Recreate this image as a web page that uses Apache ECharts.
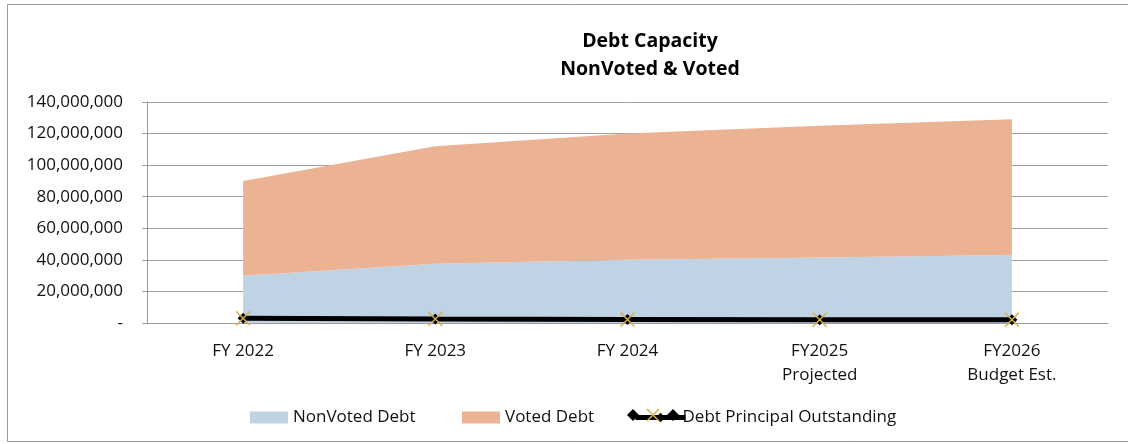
<!DOCTYPE html>
<html><head><meta charset="utf-8">
<script src="https://cdn.jsdelivr.net/npm/echarts@6/dist/echarts.min.js"></script>
<style>html,body{margin:0;padding:0;background:#fff}#c{width:1128px;height:444px}</style>
</head><body><div id="c"></div>
<script>
const categories = ['FY 2022', 'FY 2023', 'FY 2024', 'FY2025\nProjected', 'FY2026\nBudget Est.'];
const nonVotedDebt = [30000000, 37500000, 40000000, 41500000, 43000000];
const votedDebt = [60000000, 74500000, 80000000, 83500000, 86000000];
const debtPrincipal = [3000000, 2500000, 2200000, 2000000, 2000000];
const yTicks = { min: 0, max: 140000000, interval: 20000000 };

const FONT = '"Open Sans", "Noto Sans", sans-serif';
const fmt = v => v === 0 ? '-' : v.toLocaleString('en-US');
const legendText = { fontFamily: FONT, fontSize: 17, color: '#111' };

function diamond(cx, cy, r) {
  return { type: 'polygon', shape: { points: [[cx, cy - r], [cx + r, cy], [cx, cy + r], [cx - r, cy]] },
    style: { fill: '#000' }, silent: true, z: 99 };
}

const chart = echarts.init(document.getElementById('c'), null, { renderer: 'canvas' });
chart.setOption({
  animation: false,
  backgroundColor: '#fff',
  textStyle: { fontFamily: FONT },
  title: {
    text: 'Debt Capacity\nNonVoted & Voted',
    left: 645, top: 22, textAlign: 'center',
    textStyle: { fontFamily: FONT, fontWeight: 'bold', fontSize: 19.5, lineHeight: 28, color: '#000' }
  },
  graphic: [{
    type: 'rect', shape: { x: 7.5, y: 4.5, width: 1125, height: 437 },
    style: { fill: 'none', stroke: '#9a9a9a', lineWidth: 1 }, silent: true, z: -1
  },
  diamond(633, 415, 6), diamond(673, 415, 6),
  {
    type: 'line', shape: { x1: 647, y1: 409, x2: 659, y2: 421 },
    style: { stroke: '#D9AE4F', lineWidth: 1.5 }, silent: true, z: 100
  }, {
    type: 'line', shape: { x1: 659, y1: 409, x2: 647, y2: 421 },
    style: { stroke: '#D9AE4F', lineWidth: 1.5 }, silent: true, z: 100
  }],
  legend: [
    { data: ['NonVoted Debt'], left: 245, top: 404, icon: 'rect', itemWidth: 38, itemHeight: 12, textStyle: legendText },
    { data: ['Voted Debt'], left: 457, top: 404, icon: 'rect', itemWidth: 38, itemHeight: 12, textStyle: legendText },
    { data: ['Debt Principal Outstanding'], left: 628, top: 404, itemWidth: 50, itemHeight: 12,
      lineStyle: { width: 5 }, textStyle: Object.assign({}, legendText, { padding: [0, 0, 0, -8] }) }
  ],
  grid: { left: 147, right: 20, top: 102, bottom: 121, containLabel: false },
  xAxis: {
    type: 'category', data: categories, boundaryGap: true,
    axisLine: { show: true, lineStyle: { color: '#9a9a9a', width: 1 } },
    axisTick: { show: false },
    axisLabel: { fontFamily: FONT, fontSize: 17, color: '#111', margin: 16, lineHeight: 24 }
  },
  yAxis: {
    type: 'value', min: yTicks.min, max: yTicks.max, interval: yTicks.interval,
    axisLine: { show: true, lineStyle: { color: '#9a9a9a', width: 1 } },
    axisTick: { show: true, length: 5, lineStyle: { color: '#9a9a9a' } },
    splitLine: { show: true, lineStyle: { color: '#a0a0a0', width: 1 } },
    axisLabel: { fontFamily: FONT, fontSize: 17, color: '#111', margin: 24, formatter: fmt }
  },
  series: [
    { name: 'NonVoted Debt', type: 'line', stack: 'cap', data: nonVotedDebt,
      symbol: 'none', lineStyle: { width: 0 }, itemStyle: { color: '#C0D3E4' },
      areaStyle: { color: '#C0D3E4', opacity: 1 }, z: 1 },
    { name: 'Voted Debt', type: 'line', stack: 'cap', data: votedDebt,
      symbol: 'none', lineStyle: { width: 0 }, itemStyle: { color: '#EBB293' },
      areaStyle: { color: '#EBB293', opacity: 1 }, z: 1 },
    { name: 'Debt Principal Outstanding', type: 'line', data: debtPrincipal,
      symbol: 'diamond', symbolSize: 11, showAllSymbol: true,
      lineStyle: { color: '#000', width: 5 }, itemStyle: { color: '#000' }, z: 5 },
    { name: 'markerX', type: 'line', data: debtPrincipal,
      symbol: 'path://M0,0L10,10M10,0L0,10', symbolSize: 14, showAllSymbol: true,
      lineStyle: { width: 0, opacity: 0 },
      itemStyle: { color: 'none', borderColor: '#D9AE4F', borderWidth: 1.5 }, z: 6 }
  ]
});
</script></body></html>
